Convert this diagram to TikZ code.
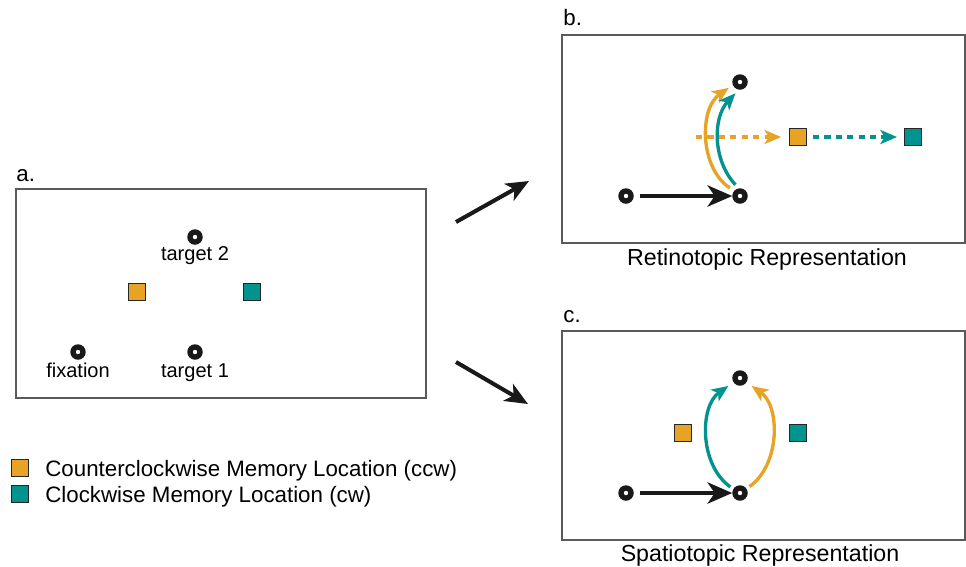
\documentclass[tikz,border=0pt]{standalone}
\usepackage{fontspec}
\setmainfont{Liberation Sans}
\usetikzlibrary{arrows.meta}
\definecolor{ccw}{RGB}{232,163,37}
\definecolor{cw}{RGB}{0,147,143}
\definecolor{frame}{RGB}{90,90,90}

\tikzset{
  dot/.style={circle,fill=black!90,minimum size=0.31cm,inner sep=0pt,outer sep=0pt,
    path picture={\fill[white] (path picture bounding box.center) circle (2.2);}},
  ccwsq/.style={rectangle,draw=black!85,fill=ccw,line width=0.8pt,minimum size=0.33cm,inner sep=0pt},
  cwsq/.style={rectangle,draw=black!85,fill=cw,line width=0.8pt,minimum size=0.33cm,inner sep=0pt},
  lbl/.style={inner sep=0pt},
  small/.style={lbl,font=\fontsize{11.4}{13}\selectfont},
  caption/.style={lbl,font=\fontsize{13.2}{15}\selectfont},
  panel/.style={draw=frame,line width=0.7pt},
  saccade/.style={draw=black!90,line width=2.7pt,-{Stealth[length=14pt,width=12pt,inset=4pt]}},
  ccwarc/.style={draw=ccw,line width=1.9pt,-{Stealth[length=9.5pt,width=8pt,inset=2.5pt]}},
  cwarc/.style={draw=cw,line width=1.9pt,-{Stealth[length=9.5pt,width=8pt,inset=2.5pt]}},
  ccwdash/.style={ccwarc,dash pattern=on 3.5pt off 3pt},
  cwdash/.style={cwarc,dash pattern=on 3.5pt off 3pt},
  mapping/.style={draw=black!90,line width=2.3pt,-{Stealth[length=13pt,width=11pt,inset=3.5pt]}}
}

\begin{document}
\begin{tikzpicture}[x=0.02cm,y=-0.02cm,font=\fontsize{12.7}{15}\selectfont]
  \useasboundingbox (0,0) rectangle (966,566);

  % a. the task layout
  \node[lbl,anchor=base west] (labA) at (16,181) {a.};
  \draw[panel] (16,189) rectangle (426,398);
  \node[dot] (aT2) at (195,237) {};
  \node[dot] (aF) at (78,352) {};
  \node[dot] (aT1) at (195,352) {};
  \node[ccwsq] (aCCW) at (137,292) {};
  \node[cwsq] (aCW) at (252,292) {};
  \node[small,anchor=base] (aT2L) at (195,260) {target 2};
  \node[small,anchor=base] (aFL) at (78,377) {fixation};
  \node[small,anchor=base] (aT1L) at (195,377) {target 1};

  % legend
  \node[ccwsq] (legCCW) at (20,468) {};
  \node[cwsq] (legCW) at (20,494) {};
  \node[lbl,anchor=base west] (legCCWL) at (45,476) {Counterclockwise Memory Location (ccw)};
  \node[lbl,anchor=base west] (legCWL) at (45,502) {Clockwise Memory Location (cw)};

  % arrows to b. and c.
  \coordinate (up0) at (456,222);
  \coordinate (up1) at (529,181);
  \coordinate (dn0) at (456,362);
  \coordinate (dn1) at (528,404);
  \draw[mapping] (up0) -- (up1);
  \draw[mapping] (dn0) -- (dn1);

  % b. retinotopic
  \node[lbl,anchor=base west] (labB) at (563,25) {b.};
  \draw[panel] (562,35) rectangle (965,243);
  \node[dot] (bF) at (626,196) {};
  \node[dot] (bT1) at (740,196) {};
  \node[dot] (bT2) at (740,82) {};
  \node[ccwsq] (bCCW) at (798,137) {};
  \node[cwsq] (bCW) at (913,137) {};
  \coordinate (bD) at (696,137);
  \draw[saccade,shorten <=3.4pt] (bF) -- (bT1);
  \draw[ccwarc,shorten <=3pt,shorten >=2.8pt] (bT1.138) to[bend left=56] (bT2.203);
  \draw[cwarc,shorten <=2.8pt,shorten >=2.8pt] (bT1.99) to[bend left=43] (bT2.261);
  \draw[ccwdash,shorten >=4.5pt] (bD) -- (bCCW);
  \draw[cwdash,shorten <=3.4pt,shorten >=4pt] (bCCW) -- (bCW);
  \node[caption,anchor=base] (capB) at (767,265) {Retinotopic Representation};

  % c. spatiotopic
  \node[lbl,anchor=base west] (labC) at (563,322) {c.};
  \draw[panel] (562,331) rectangle (965,540);
  \node[dot] (cF) at (626,493) {};
  \node[dot] (cT1) at (740,493) {};
  \node[dot] (cT2) at (740,378) {};
  \node[ccwsq] (cCCW) at (683,433) {};
  \node[cwsq] (cCW) at (798,433) {};
  \draw[saccade,shorten <=3.4pt] (cF) -- (cT1);
  \draw[cwarc,shorten <=2.1pt,shorten >=3.6pt] (cT1.149) to[bend left=55] (cT2.214);
  \draw[ccwarc,shorten <=2.1pt,shorten >=3.6pt] (cT1.34) to[bend right=55] (cT2.326);
  \node[caption,anchor=base] (capC) at (760,561) {Spatiotopic Representation};
\end{tikzpicture}
\end{document}
